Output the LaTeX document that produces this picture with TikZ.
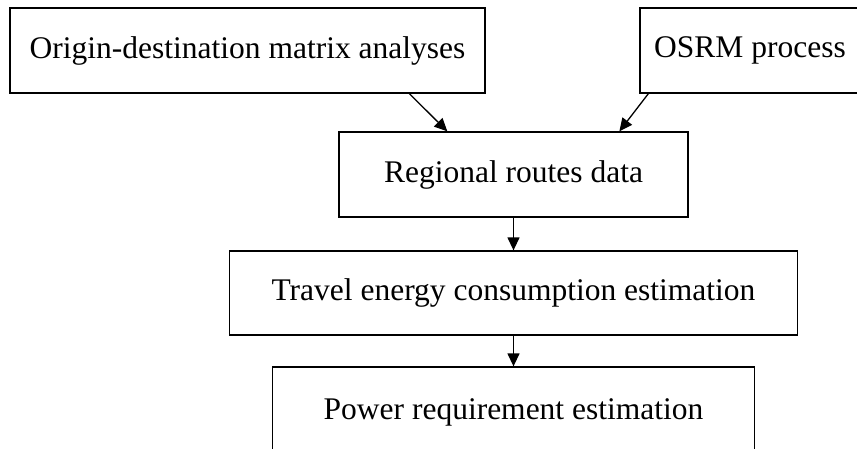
\documentclass[tikz,border=0pt]{standalone}
\usepackage{fontspec}
\setmainfont{Liberation Serif}
\usetikzlibrary{arrows.meta,calc}
\begin{document}
\begin{tikzpicture}[x=1pt,y=-1pt,
  box/.style={draw=black,line width=1.3pt,rectangle,inner sep=0pt,
    font=\fontsize{31.5}{38}\selectfont,text=black},
  arr/.style={line width=1.3pt,-{Triangle[length=13pt,width=12pt]}}]
\useasboundingbox (0,0) rectangle (857,448);
\node[box,minimum width=475pt,minimum height=85pt] (od) at (247.5,50.5) {Origin-destination matrix analyses};
\node[box,minimum width=220pt,minimum height=85pt] (osrm) at (750,50.5) {OSRM process};
\node[box,minimum width=349pt,minimum height=85pt] (rr) at (513.5,174.5) {Regional routes data};
\node[box,minimum width=568pt,minimum height=84pt] (te) at (513.5,293) {Travel energy consumption estimation};
\node[box,minimum width=482pt,minimum height=90pt] (pr) at (513.5,412) {Power requirement estimation};
\draw[arr] ($(od.south west)+(400,0)$) -- ($(rr.north west)+(109,0)$);
\draw[arr] ($(osrm.south west)+(9,0)$) -- ($(rr.north west)+(281,0)$);
\draw[arr] (rr.south) -- (te.north);
\draw[arr] (te.south) -- (pr.north);
\end{tikzpicture}
\end{document}
